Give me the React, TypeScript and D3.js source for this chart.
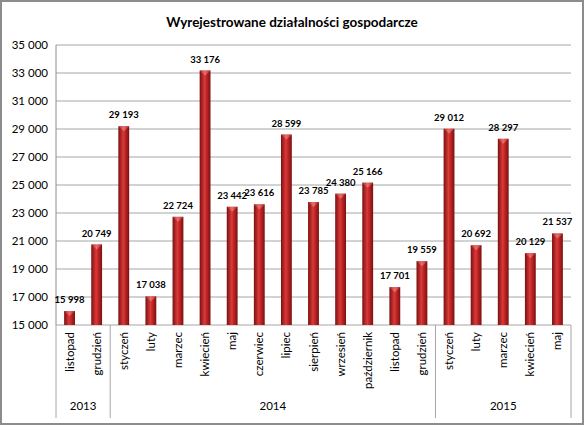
import React from "react";
import * as d3 from "d3";

const months = ["listopad","grudzień","styczeń","luty","marzec","kwiecień","maj","czerwiec","lipiec","sierpień","wrzesień","październik","listopad","grudzień","styczeń","luty","marzec","kwiecień","maj"];
const values = [15998,20749,29193,17038,22724,33176,23442,23616,28599,23785,24380,25166,17701,19559,29012,20692,28297,20129,21537];
const years = ["2013","2014","2015"];
const yearCounts = [2,12,5];
const yTicks = [15000,17000,19000,21000,23000,25000,27000,29000,31000,33000,35000];

const W = 585, H = 426;
const L = 56, R = 571, T = 45, B = 325;
const font = "Lato, 'Open Sans', sans-serif";
const fmt = (v: number) => d3.format(",")(v).replace(/,/g, " ");

export default function App() {
  const idx = months.map((_, i) => String(i));
  const x = d3.scaleBand().domain(idx).range([L, R]).paddingInner(0.6).paddingOuter(0.3);
  const step = (R - L) / months.length;
  const y = d3.scaleLinear().domain([15000, 35000]).range([B, T]);
  const bw = x.bandwidth();

  let acc = 0;
  const groups = years.map((yr, gi) => {
    const s = acc; acc += yearCounts[gi];
    return { yr, x0: L + s * step, x1: L + acc * step };
  });

  return (
    <svg width={W} height={H} style={{ position: "absolute", left: 0, top: 0 }} fontFamily={font}>
      <defs>
        <linearGradient id="bar" x1="0" x2="1" y1="0" y2="0">
          <stop offset="0" stopColor="#7a1010" />
          <stop offset="0.45" stopColor="#d93a3a" />
          <stop offset="0.6" stopColor="#c82828" />
          <stop offset="1" stopColor="#7a1010" />
        </linearGradient>
        <linearGradient id="cap" x1="0" x2="1" y1="0" y2="0">
          <stop offset="0" stopColor="#b03030" />
          <stop offset="0.5" stopColor="#f07a7a" />
          <stop offset="1" stopColor="#b03030" />
        </linearGradient>
      </defs>
      <rect x={1} y={1} width={W - 3} height={H - 3} fill="#fff" stroke="#8c8c8c" strokeWidth={2} />
      <text x={292} y={27} textAnchor="middle" fontSize={13.5} fontWeight="bold" fill="#000">
        Wyrejestrowane działalności gospodarcze
      </text>
      {yTicks.map(t => (
        <g key={t}>
          <line x1={L} x2={R} y1={y(t)} y2={y(t)} stroke="#a6a6a6" strokeWidth={1} />
          <text x={48} y={y(t) + 4} textAnchor="end" fontSize={11.5} fill="#000">{fmt(t)}</text>
        </g>
      ))}
      <line x1={L} x2={L} y1={T} y2={B} stroke="#8c8c8c" />
      {values.map((v, i) => {
        const bx = x(String(i))!;
        const by = y(v);
        return (
          <g key={i}>
            <rect x={bx} y={by} width={bw} height={B - by} fill="url(#bar)" />
            <path d={`M${bx},${by} L${bx + bw},${by} L${bx + bw / 2},${by + 5} Z`} fill="url(#cap)" opacity={0.8} />
            <text x={bx + bw / 2} y={by - 8} textAnchor="middle" fontSize={9.5} fontWeight="bold" fill="#000">{fmt(v)}</text>
          </g>
        );
      })}
      {groups.map((g, gi) => (
        <g key={gi}>
          <line x1={g.x0} x2={g.x0} y1={B} y2={418} stroke="#a6a6a6" />
          {gi === groups.length - 1 && <line x1={g.x1} x2={g.x1} y1={B} y2={418} stroke="#a6a6a6" />}
          <text x={(g.x0 + g.x1) / 2} y={410} textAnchor="middle" fontSize={11.5} fill="#000">{g.yr}</text>
        </g>
      ))}
      {months.map((m, i) => {
        const cx = x(String(i))! + bw / 2 + 4;
        return (
          <text key={i} transform={`translate(${cx},${B + 7}) rotate(-90)`} textAnchor="end" fontSize={11.5} fill="#000">{m}</text>
        );
      })}
    </svg>
  );
}
